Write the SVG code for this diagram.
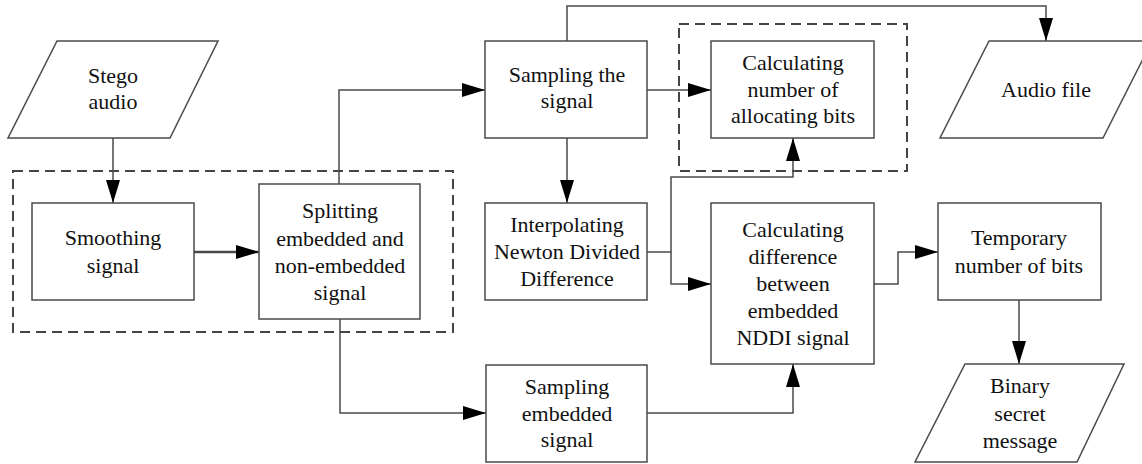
<svg xmlns="http://www.w3.org/2000/svg" width="1142" height="464" viewBox="0 0 1142 464">
<defs>
<marker id="arr" markerUnits="userSpaceOnUse" markerWidth="24" markerHeight="15" refX="23" refY="7" orient="auto">
<path d="M0,0 L23,7 L0,14 z" fill="#000"/>
</marker>
<style>
.box{fill:#fff;stroke:#4a4a4a;stroke-width:1.5}
.grp{fill:none;stroke:#444;stroke-width:2;stroke-dasharray:10 6}
.con{fill:none;stroke:#4a4a4a;stroke-width:1.5;marker-end:url(#arr)}
.t{font-size:22px;fill:#111;text-anchor:middle}
</style>
</defs>
<rect width="1142" height="464" fill="#fff"/>
<g id="groups">
<rect class="grp" x="13" y="171" width="440" height="161"/>
<rect class="grp" x="679" y="24" width="228" height="147"/>
</g>
<g id="connectors">
<path class="con" d="M113,138 V203"/>
<path class="con" d="M194,252 H259" style="stroke-width:2.4"/>
<path class="con" d="M339,184 V90 H485"/>
<path class="con" d="M567,41 V6 H1046 V41"/>
<path class="con" d="M647,90 H711"/>
<path class="con" d="M567,138 V203"/>
<path class="con" d="M647,252 H671 V177 H793 V138"/>
<path class="con" d="M671,252 V284 H711"/>
<path class="con" d="M340,319 V413 H486"/>
<path class="con" d="M647,413 H793 V364"/>
<path class="con" d="M874,284 H898 V252 H938"/>
<path class="con" d="M1019,300 V364"/>
</g>
<g font-family="'Liberation Serif', 'DejaVu Serif', serif">
<g id="stego">
<polygon class="box" points="57,41 218,41 170,138 8,138"/>
<text class="t" x="113" y="83">Stego</text>
<text class="t" x="113" y="109">audio</text>
</g>
<g id="smoothing">
<rect class="box" x="32" y="203" width="162" height="97"/>
<text class="t" x="113" y="245">Smoothing</text>
<text class="t" x="113" y="273">signal</text>
</g>
<g id="splitting">
<rect class="box" x="259" y="184" width="161" height="135"/>
<text class="t" x="340" y="218">Splitting</text>
<text class="t" x="340" y="246">embedded and</text>
<text class="t" x="340" y="273">non-embedded</text>
<text class="t" x="340" y="300">signal</text>
</g>
<g id="sampling-signal">
<rect class="box" x="485" y="41" width="162" height="97"/>
<text class="t" x="567" y="82">Sampling the</text>
<text class="t" x="567" y="108">signal</text>
</g>
<g id="calc-number">
<rect class="box" x="711" y="41" width="163" height="97"/>
<text class="t" x="793" y="70">Calculating</text>
<text class="t" x="793" y="97">number of</text>
<text class="t" x="793" y="123">allocating bits</text>
</g>
<g id="audio-file">
<polygon class="box" points="989,41 1152,41 1103,138 940,138"/>
<text class="t" x="1046" y="97">Audio file</text>
</g>
<g id="interpolating">
<rect class="box" x="485" y="203" width="162" height="97"/>
<text class="t" x="567" y="232">Interpolating</text>
<text class="t" x="567" y="259">Newton Divided</text>
<text class="t" x="567" y="286">Difference</text>
</g>
<g id="calc-diff">
<rect class="box" x="711" y="203" width="163" height="161"/>
<text class="t" x="793" y="237">Calculating</text>
<text class="t" x="793" y="264">difference</text>
<text class="t" x="793" y="291">between</text>
<text class="t" x="793" y="318">embedded</text>
<text class="t" x="793" y="345">NDDI signal</text>
</g>
<g id="temporary">
<rect class="box" x="938" y="203" width="163" height="97"/>
<text class="t" x="1019" y="245">Temporary</text>
<text class="t" x="1019" y="273">number of bits</text>
</g>
<g id="binary">
<polygon class="box" points="965,364 1124,364 1077,462 915,462"/>
<text class="t" x="1020" y="393">Binary</text>
<text class="t" x="1020" y="421">secret</text>
<text class="t" x="1020" y="448">message</text>
</g>
<g id="sampling-embedded">
<rect class="box" x="486" y="365" width="161" height="97"/>
<text class="t" x="567" y="394">Sampling</text>
<text class="t" x="567" y="421">embedded</text>
<text class="t" x="567" y="447">signal</text>
</g>
</g>
</svg>
